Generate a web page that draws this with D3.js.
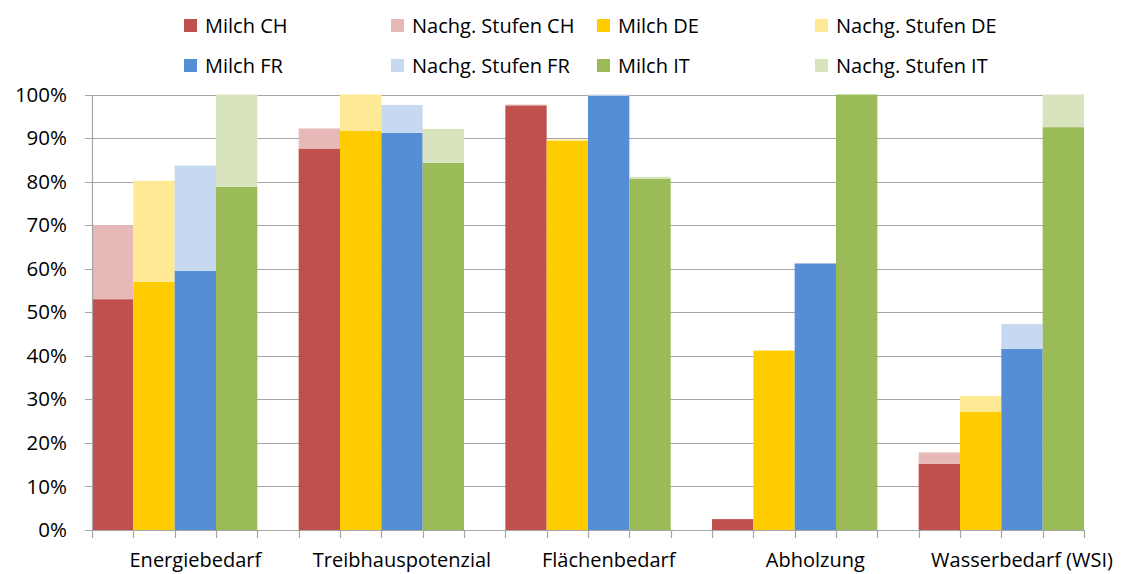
<!DOCTYPE html>
<html><head><meta charset="utf-8">
<script src="https://cdn.jsdelivr.net/npm/d3@7"></script>
<style>body{margin:0;background:#fff}svg{display:block;font-family:"Open Sans",sans-serif}</style>
</head><body><svg id="c" width="1127" height="574"></svg>
<script>
const categories = ["Energiebedarf","Treibhauspotenzial","Flächenbedarf","Abholzung","Wasserbedarf (WSI)"];
const countries = ["CH","DE","FR","IT"];
const milchCH = [53.0, 87.6, 97.5, 2.5, 15.2];
const nachgCH = [17.0, 4.6, 0.2, 0, 2.6];
const milchDE = [57.0, 91.7, 89.4, 41.2, 27.2];
const nachgDE = [23.2, 8.3, 0.3, 0, 3.6];
const milchFR = [59.5, 91.2, 99.7, 61.2, 41.6];
const nachgFR = [24.2, 6.4, 0.3, 0, 5.7];
const milchIT = [78.8, 84.3, 80.7, 100, 92.5];
const nachgIT = [21.2, 7.8, 0.4, 0, 7.5];
const yTicks = [0,10,20,30,40,50,60,70,80,90,100];
const legendLabels = ["Milch CH","Nachg. Stufen CH","Milch DE","Nachg. Stufen DE","Milch FR","Nachg. Stufen FR","Milch IT","Nachg. Stufen IT"];

const milchColors = {CH:"#C0504D",DE:"#FFCC00",FR:"#558ED5",IT:"#9BBB59"};
const nachgColors = {CH:"#E6B9B8",DE:"#FFE994",FR:"#C6D9F1",IT:"#D7E4BD"};
const milch = {CH:milchCH,DE:milchDE,FR:milchFR,IT:milchIT};
const nachg = {CH:nachgCH,DE:nachgDE,FR:nachgFR,IT:nachgIT};

const svg = d3.select("#c");
const L = 92, R = 1084, T = 94.5, B = 530;
const nSlots = categories.length*5 - 1;
const x = d3.scaleBand().domain(d3.range(nSlots)).range([L,R]).padding(0);
const y = d3.scaleLinear().domain([0,100]).range([B,T]);

// gridlines
svg.append("g").selectAll("line").data(yTicks).join("line")
  .attr("x1",L-7).attr("x2",R).attr("y1",d=>Math.round(y(d))+0.5).attr("y2",d=>Math.round(y(d))+0.5)
  .attr("stroke","#A6A6A6").attr("stroke-width",1.2);

// bars
const rows = [];
categories.forEach((c,gi)=>countries.forEach((k,ci)=>{
  const slot = gi*5+ci;
  rows.push({slot, y0:0, y1:milch[k][gi], color:milchColors[k]});
  rows.push({slot, y0:milch[k][gi], y1:milch[k][gi]+nachg[k][gi], color:nachgColors[k]});
}));
svg.append("g").selectAll("rect").data(rows.filter(r=>r.y1>r.y0)).join("rect")
  .attr("x",d=>x(d.slot)).attr("width",x.bandwidth())
  .attr("y",d=>y(d.y1)).attr("height",d=>y(d.y0)-y(d.y1))
  .attr("fill",d=>d.color);

// y axis
const ya = svg.append("g").attr("transform",`translate(${L},0)`)
  .call(d3.axisLeft(y).tickValues(yTicks).tickSize(0).tickPadding(25).tickFormat(d=>d+"%"));
ya.select(".domain").attr("stroke","#A6A6A6").attr("stroke-width",1.2);
ya.selectAll("text").attr("font-size",20.5).attr("fill","#000").attr("font-family","Open Sans");

// x axis ticks
const xt = d3.range(nSlots+1).map(i=>L + i*x.bandwidth());
svg.append("g").selectAll("line").data(xt).join("line")
  .attr("x1",d=>Math.round(d)+0.5).attr("x2",d=>Math.round(d)+0.5).attr("y1",B).attr("y2",B+8)
  .attr("stroke","#A6A6A6").attr("stroke-width",1.2);
svg.append("line").attr("x1",L).attr("x2",R).attr("y1",B+0.5).attr("y2",B+0.5).attr("stroke","#A6A6A6").attr("stroke-width",1.2);

svg.append("g").selectAll("text").data(categories).join("text")
  .attr("x",(d,i)=>x(i*5)+2.5*x.bandwidth()).attr("y",567)
  .attr("text-anchor","middle").attr("font-size",20).text(d=>d);

// legend
const lx = [184,391,597,815], ly = [26,66];
const lg = svg.append("g").selectAll("g").data(legendLabels).join("g")
  .attr("transform",(d,i)=>`translate(${lx[i%4]},${ly[Math.floor(i/4)]})`);
lg.append("rect").attr("x",0).attr("y",-7).attr("width",13).attr("height",13)
  .attr("fill",(d,i)=>{const k=countries[Math.floor(i/2)]; return i%2? nachgColors[k]:milchColors[k];});
lg.append("text").attr("x",21).attr("y",7).attr("font-size",20).text(d=>d);
</script></body></html>
